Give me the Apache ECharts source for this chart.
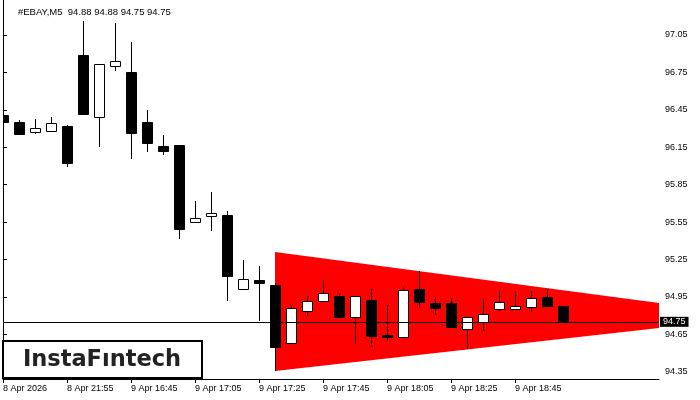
<!DOCTYPE html>
<html>
<head>
<meta charset="utf-8">
<script src="https://cdn.jsdelivr.net/npm/echarts@6/dist/echarts.min.js"></script>
<style>html,body{margin:0;padding:0;background:#fff}#c{width:700px;height:400px}</style>
</head>
<body>
<div id="c"></div>
<script>
const titleText = '#EBAY,M5  94.88 94.88 94.75 94.75';
const opens  = [96.409, 96.350, 96.270, 96.278, 96.321, 96.890, 96.395, 96.799, 96.754, 96.353, 96.160, 96.168, 95.553, 95.596, 95.607, 95.011, 95.086, 95.045, 94.583, 94.835, 94.920, 94.957, 94.786, 94.925, 94.645, 94.631, 95.013, 94.899, 94.899, 94.695, 94.746, 94.856, 94.856, 94.867, 94.949, 94.877];
const highs  = [96.409, 96.369, 96.377, 96.393, 96.329, 97.163, 96.815, 97.147, 96.994, 96.449, 96.248, 96.168, 95.719, 95.791, 95.636, 95.246, 95.198, 95.064, 94.885, 94.957, 95.086, 94.979, 94.955, 95.013, 94.885, 95.038, 95.158, 94.949, 94.941, 94.786, 94.941, 95.005, 94.997, 94.997, 95.013, 94.877];
const lows   = [96.355, 96.259, 96.259, 96.278, 95.994, 96.419, 96.155, 96.762, 96.058, 96.115, 96.090, 95.417, 95.545, 95.481, 94.920, 95.011, 94.759, 94.358, 94.583, 94.799, 94.920, 94.783, 94.575, 94.551, 94.599, 94.631, 94.863, 94.807, 94.711, 94.532, 94.679, 94.837, 94.843, 94.831, 94.872, 94.746];
const closes = [96.355, 96.259, 96.302, 96.342, 96.026, 96.419, 96.815, 96.839, 96.267, 96.187, 96.123, 95.497, 95.580, 95.620, 95.120, 95.091, 95.064, 94.551, 94.859, 94.915, 94.979, 94.791, 94.955, 94.639, 94.628, 95.005, 94.912, 94.863, 94.711, 94.786, 94.813, 94.909, 94.875, 94.939, 94.880, 94.746];
const timeTickIdx = [0, 4, 8, 12, 16, 20, 24, 28, 32];
const timeTickLabels = ['8 Apr 2026', '8 Apr 21:55', '9 Apr 16:45', '9 Apr 17:05', '9 Apr 17:25', '9 Apr 17:45', '9 Apr 18:05', '9 Apr 18:25', '9 Apr 18:45'];
const priceTicks = [94.35, 94.65, 94.95, 95.25, 95.55, 95.85, 96.15, 96.45, 96.75, 97.05];
const patternX = [17, 17, 47.4];
const patternY = [95.310, 94.356, 94.792];
const lastPrice = 94.75;

const candleData = opens.map((o, i) => [i, o, highs[i], lows[i], closes[i]]);

const chart = echarts.init(document.getElementById('c'), null, {renderer: 'canvas'});
const font = 'Liberation Sans, Arial, sans-serif';
chart.setOption({
  animation: false,
  backgroundColor: '#fff',
  title: {
    text: titleText, left: 13, top: 2,
    textStyle: {fontFamily: font, fontSize: 9.5, fontWeight: 'normal', color: '#000'}
  },
  grid: {left: 3, right: 41, top: 0, bottom: 21},
  xAxis: {
    type: 'value', min: 0, max: 41,
    axisLine: {show: true, onZero: false, lineStyle: {color: '#000', width: 1}},
    axisTick: {show: true, length: 4, lineStyle: {color: '#000'}, customValues: timeTickIdx},
    axisLabel: {
      show: true, customValues: timeTickIdx, align: 'left', margin: 5,
      fontFamily: font, fontSize: 9, color: '#000',
      formatter: v => { const k = timeTickIdx.indexOf(Math.round(v)); return k >= 0 ? timeTickLabels[k] : ''; }
    },
    splitLine: {show: false}
  },
  yAxis: [{
    type: 'value', position: 'right', min: 94.2915, max: 97.3307,
    axisLine: {show: true, lineStyle: {color: '#000', width: 1}},
    axisTick: {show: true, length: 4, inside: false, lineStyle: {color: '#000'}, customValues: priceTicks},
    axisLabel: {
      show: true, customValues: priceTicks, margin: 6, fontFamily: font, fontSize: 9, color: '#000',
      formatter: v => v.toFixed(2)
    },
    splitLine: {show: false}
  }, {
    type: 'value', position: 'left', min: 94.2915, max: 97.3307,
    axisLine: {show: true, lineStyle: {color: '#000', width: 1}},
    axisTick: {show: false}, axisLabel: {show: false}, splitLine: {show: false}
  }],
  graphic: [
    {type: 'rect', shape: {x: 3, y: 341, width: 199, height: 37}, style: {fill: '#fff', stroke: '#000', lineWidth: 2}, z: 100},
    {type: 'text', x: 102, y: 360, style: {text: 'InstaFıntech', fill: '#222', font: 'bold 22.5px "DejaVu Sans", sans-serif', textAlign: 'center', textVerticalAlign: 'middle'}, z: 101}
  ],
  series: [{
    type: 'custom',
    clip: true,
    silent: true,
    data: [[0]],
    renderItem: function (params, api) {
      const pts = patternX.map((x, i) => api.coord([x, patternY[i]]));
      return {type: 'polygon', shape: {points: pts}, style: {fill: '#ff0000', stroke: null}};
    },
    z: 1
  }, {
    type: 'custom',
    clip: true,
    silent: true,
    data: candleData,
    encode: {x: 0, y: [1, 2, 3, 4]},
    renderItem: function (params, api) {
      const i = api.value(0), o = api.value(1), h = api.value(2), l = api.value(3), c = api.value(4);
      const cx = Math.round(api.coord([i, o])[0]);
      const yo = Math.round(api.coord([i, o])[1]);
      const yc = Math.round(api.coord([i, c])[1]);
      const yh = Math.round(api.coord([i, h])[1]);
      const yl = Math.round(api.coord([i, l])[1]);
      const top = Math.min(yo, yc), bot = Math.max(yo, yc);
      const up = c > o;
      return {
        type: 'group',
        children: [
          {type: 'line', shape: {x1: cx + 0.5, y1: yh, x2: cx + 0.5, y2: yl}, style: {stroke: '#000', lineWidth: 1}},
          {type: 'rect', shape: {x: cx - 5 + 0.5, y: top + 0.5, width: 10, height: Math.max(bot - top, 1)},
           style: {fill: up ? '#fff' : '#000', stroke: '#000', lineWidth: 1}}
        ]
      };
    },
    markLine: {
      silent: true, symbol: ['none', 'none'],
      lineStyle: {color: '#000', width: 1, type: 'solid'},
      label: {
        show: true, position: 'end', distance: 1,
        formatter: () => lastPrice.toFixed(2),
        backgroundColor: '#000', color: '#fff', padding: [1, 3, 0, 3],
        fontFamily: font, fontSize: 9
      },
      data: [{yAxis: lastPrice}]
    },
    z: 2
  }]
});
</script>
</body>
</html>
